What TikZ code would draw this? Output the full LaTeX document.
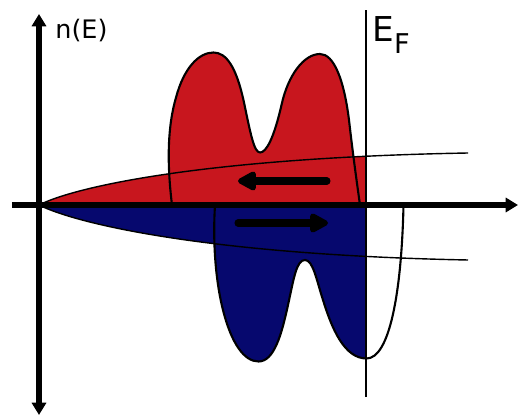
\documentclass[tikz,border=0pt]{standalone}
\usepackage{fontspec}
\setmainfont{DejaVu Sans}
\usetikzlibrary{arrows.meta}
\definecolor{spinup}{RGB}{200,22,30}
\definecolor{spindown}{RGB}{6,8,110}
\begin{document}
\begin{tikzpicture}[axis/.style={line width=3.2pt, -{Triangle[length=7pt,width=8pt]}},
  band/.style={line width=1.2pt, line join=round},
  freeel/.style={line width=0.8pt},
  moment/.style={line width=4pt, line cap=round, -{Triangle[length=12pt,width=12pt,round]}}]
\useasboundingbox (-0.78,-4.22) rectangle (9.62,4.1);
\coordinate (O) at (0,0);
\coordinate (EFtop) at (6.54,3.9);
\coordinate (EFbot) at (6.54,-3.84);
% fillings up to the Fermi level
\begin{scope}
\clip (-1,-5) rectangle (6.54,5);
\fill[spinup] (O) .. controls (0.8,0.4) and (3.5,0.95) .. (8.58,1.04) -- (8.58,0) -- cycle;
\fill[spinup] (2.66,0) .. controls (2.55,0.9) and (2.58,1.6) .. (2.74,2.15) .. controls (2.9,2.75) and (3.2,3.05) .. (3.49,3.05)
  .. controls (3.75,3.05) and (3.95,2.75) .. (4.1,2.05) .. controls (4.23,1.43) and (4.3,1.05) .. (4.42,1.05)
  .. controls (4.55,1.05) and (4.7,1.35) .. (4.85,2.0) .. controls (4.98,2.6) and (5.3,3.02) .. (5.62,3.02)
  .. controls (5.9,3.02) and (6.1,2.5) .. (6.2,1.7) .. controls (6.28,1.0) and (6.35,0.5) .. (6.42,0) -- cycle;
\fill[spindown] (O) .. controls (0.8,-0.4) and (3.5,-1.0) .. (8.58,-1.1) -- (8.58,0) -- cycle;
\fill[spindown] (3.52,0) .. controls (3.42,-1.6) and (3.8,-3.13) .. (4.39,-3.13)
  .. controls (4.7,-3.13) and (4.85,-2.6) .. (4.98,-2.0) .. controls (5.1,-1.45) and (5.15,-1.1) .. (5.32,-1.1)
  .. controls (5.48,-1.1) and (5.55,-1.5) .. (5.68,-1.9) .. controls (5.85,-2.45) and (6.1,-3.07) .. (6.55,-3.07)
  .. controls (7.0,-3.07) and (7.25,-1.8) .. (7.29,0) -- cycle;
\end{scope}
% outlines
\draw[freeel] (O) .. controls (0.8,0.4) and (3.5,0.95) .. (8.58,1.04);
\draw[freeel] (O) .. controls (0.8,-0.4) and (3.5,-1.0) .. (8.58,-1.1);
\draw[band] (2.66,0) .. controls (2.55,0.9) and (2.58,1.6) .. (2.74,2.15) .. controls (2.9,2.75) and (3.2,3.05) .. (3.49,3.05)
  .. controls (3.75,3.05) and (3.95,2.75) .. (4.1,2.05) .. controls (4.23,1.43) and (4.3,1.05) .. (4.42,1.05)
  .. controls (4.55,1.05) and (4.7,1.35) .. (4.85,2.0) .. controls (4.98,2.6) and (5.3,3.02) .. (5.62,3.02)
  .. controls (5.9,3.02) and (6.1,2.5) .. (6.2,1.7) .. controls (6.28,1.0) and (6.35,0.5) .. (6.42,0);
\draw[band] (3.52,0) .. controls (3.42,-1.6) and (3.8,-3.13) .. (4.39,-3.13)
  .. controls (4.7,-3.13) and (4.85,-2.6) .. (4.98,-2.0) .. controls (5.1,-1.45) and (5.15,-1.1) .. (5.32,-1.1)
  .. controls (5.48,-1.1) and (5.55,-1.5) .. (5.68,-1.9) .. controls (5.85,-2.45) and (6.1,-3.07) .. (6.55,-3.07)
  .. controls (7.0,-3.07) and (7.25,-1.8) .. (7.29,0);
% Fermi level and axes
\draw[line width=1.3pt] (EFbot) -- (EFtop);
\draw[axis] (-0.54,0) -- (9.58,0);
\draw[axis, {Triangle[length=7pt,width=8pt]}-{Triangle[length=7pt,width=8pt]}] (0,-4.2) -- (0,3.82);
% magnetic moments
\coordinate (upR) at (5.76,0.48);
\coordinate (upL) at (3.98,0.48);
\coordinate (dnL) at (3.98,-0.36);
\coordinate (dnR) at (5.78,-0.36);
\draw[moment] (upR) -- (upL);
\draw[moment] (dnL) -- (dnR);
\node[anchor=base west, inner sep=0, font=\fontsize{14.5}{16}\selectfont] (nE) at (0.32,3.33) {n(E)};
\node[anchor=base west, inner sep=0, font=\fontsize{19.5}{22}\selectfont] (EF) at (6.66,3.27) {E\raisebox{-7pt}{\fontsize{15.5}{17}\selectfont F}};
\end{tikzpicture}
\end{document}
